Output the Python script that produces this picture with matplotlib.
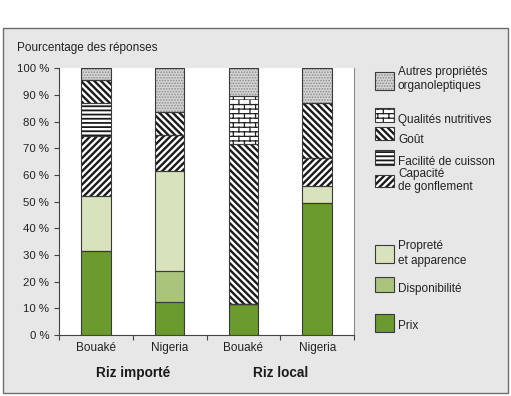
import warnings
warnings.filterwarnings('ignore')
import numpy as np
import matplotlib
matplotlib.use('Agg')
import matplotlib.pyplot as plt
import matplotlib.hatch as mhatch
from matplotlib.path import Path
from matplotlib.patches import Rectangle

# ---------------- data ----------------
categories = ['Bouaké', 'Nigeria', 'Bouaké', 'Nigeria']
groups = ['Riz importé', 'Riz local']
series = ['Prix', 'Disponibilité', 'Propreté\net apparence', 'Capacité\nde gonflement',
          'Facilité de cuisson', 'Goût', 'Qualités nutritives',
          'Autres propriétés\norganoleptiques']
prix        = [31.5, 12.5, 11.5, 49.5]
disponib    = [0.0, 11.5, 0.0, 0.0]
proprete    = [20.5, 37.5, 0.0, 6.5]
capacite    = [22.5, 13.5, 0.0, 10.5]
facilite    = [12.5, 0.0, 0.0, 0.0]
gout        = [8.5, 8.5, 60.0, 20.5]
qualites    = [0.0, 0.0, 18.0, 0.0]
autres      = [4.5, 16.5, 10.5, 13.0]
values = [prix, disponib, proprete, capacite, facilite, gout, qualites, autres]
yticks = [0, 10, 20, 30, 40, 50, 60, 70, 80, 90, 100]
ytick_labels = [f'{v} %' for v in yticks]

# ---------------- styles ----------------
facecolors = ['#6b9a2f', '#abc47c', '#d8e2bd', 'white', 'white', 'white', 'white', '#d4d4d4']
hatches    = ['', '', '', '/////', '----', '\\\\\\\\\\', 'b', '......']
hatchcols  = ['#333333', '#333333', '#333333', '#1a1a1a', '#1a1a1a', '#1a1a1a', '#222222', '#8c8c8c']
hatchlw    = [1.0, 1.0, 1.0, 1.7, 1.3, 1.7, 0.9, 0.8]

# custom brick hatch
class BrickHatch(mhatch.HatchPatternBase):
    def __init__(self, hatch, density):
        n = hatch.count('b')
        self.rows = 22 * n
        self.cols = 9 * n
        self.num_vertices = (self.rows * 2 + self.rows * self.cols * 2) if n else 0

    def set_vertices_and_codes(self, vertices, codes):
        R, C = self.rows, self.cols
        k = 0
        for i in range(R):
            y = i / R
            vertices[k] = (0.0, y); codes[k] = Path.MOVETO; k += 1
            vertices[k] = (1.0, y); codes[k] = Path.LINETO; k += 1
            off = 0.5 / C if i % 2 else 0.0
            for j in range(C):
                xx = j / C + off
                vertices[k] = (xx, y); codes[k] = Path.MOVETO; k += 1
                vertices[k] = (xx, y + 1.0 / R); codes[k] = Path.LINETO; k += 1

mhatch._hatch_types.append(BrickHatch)

plt.rcParams['font.family'] = ['Liberation Sans', 'DejaVu Sans']

W, H = 511, 396
fig = plt.figure(figsize=(W / 100, H / 100), dpi=100)
fig.patch.set_facecolor('white')

# outer gray frame
fig.patches.append(Rectangle((3 / W, 1 - 393 / H), 505 / W, (393 - 28) / H,
                             transform=fig.transFigure, facecolor='#e7e7e7',
                             edgecolor='#6e6e6e', linewidth=1.0, zorder=-10))

ax = fig.add_axes([59 / W, 1 - 335 / H, 295 / W, (335 - 68.3) / H])
ax.set_facecolor('white')

x = np.arange(len(categories))
width = 0.4
bottom = np.zeros(len(categories))
for vals, fc, ht, hc, hl in zip(values, facecolors, hatches, hatchcols, hatchlw):
    v = np.array(vals)
    plt.rcParams['hatch.linewidth'] = hl
    ax.bar(x, v, width, bottom=bottom, facecolor=fc, edgecolor=hc, hatch=ht,
           linewidth=0, zorder=2)
    ax.bar(x, v, width, bottom=bottom, fill=False, edgecolor='#3a3a3a',
           linewidth=0.8, zorder=3)
    bottom += v

ax.set_xlim(-0.5, 3.5)
ax.set_ylim(0, 100)
ax.set_yticks(yticks)
ax.set_yticklabels(ytick_labels, fontsize=8.2, color='#222222')
ax.tick_params(axis='y', direction='out', length=3.5, width=0.8, pad=3.5, color='#444444')
ax.set_xticks(x)
ax.set_xticklabels(categories, fontsize=8.5, color='#222222')
ax.tick_params(axis='x', which='major', length=0, pad=5)
ax.set_xticks([-0.5, 0.5, 1.5, 2.5, 3.5], minor=True)
ax.tick_params(axis='x', which='minor', direction='out', length=3.5, width=0.8, color='#444444')

for s in ['left', 'bottom']:
    ax.spines[s].set_color('#444444')
    ax.spines[s].set_linewidth(0.8)
ax.spines['right'].set_color('#8a8a8a')
ax.spines['right'].set_linewidth(0.8)
ax.spines['top'].set_visible(False)

fig.text(17 / W, 1 - 48 / H, 'Pourcentage des réponses', fontsize=8.5,
         color='#222222', ha='left', va='center')

trans = matplotlib.transforms.blended_transform_factory(ax.transData, fig.transFigure)
for gx, g in zip([0.5, 2.5], groups):
    ax.text(gx, 1 - 373 / H, g, transform=trans, ha='center', va='center',
            fontsize=9.8, fontweight='bold', color='#1a1a1a')

# legend (patch top, patch bottom, text y, linespacing) in pixels
leg_layout = {
    7: (72, 90, 79, 1.15),
    6: (108, 122, 120.5, 1.0),
    5: (127, 140, 140, 1.0),
    4: (150, 165, 162, 1.0),
    3: (175, 187, 180.5, 1.1),
    2: (245, 263, 253.5, 1.3),
    1: (277, 292, 289, 1.0),
    0: (314, 332, 326, 1.0),
}
for idx, (ptop, pbot, ty, ls) in leg_layout.items():
    plt.rcParams['hatch.linewidth'] = hatchlw[idx]
    r = Rectangle((375 / W, 1 - pbot / H), 19 / W, (pbot - ptop) / H,
                  transform=fig.transFigure, facecolor=facecolors[idx],
                  edgecolor=hatchcols[idx], hatch=hatches[idx], linewidth=0)
    fig.patches.append(r)
    r2 = Rectangle((375 / W, 1 - pbot / H), 19 / W, (pbot - ptop) / H,
                   transform=fig.transFigure, fill=False,
                   edgecolor='#3a3a3a', linewidth=0.8)
    fig.patches.append(r2)
    fig.text(398 / W, 1 - ty / H, series[idx], fontsize=8.5, color='#222222',
             ha='left', va='center', linespacing=ls)

fig.savefig('out.png', dpi=100)
